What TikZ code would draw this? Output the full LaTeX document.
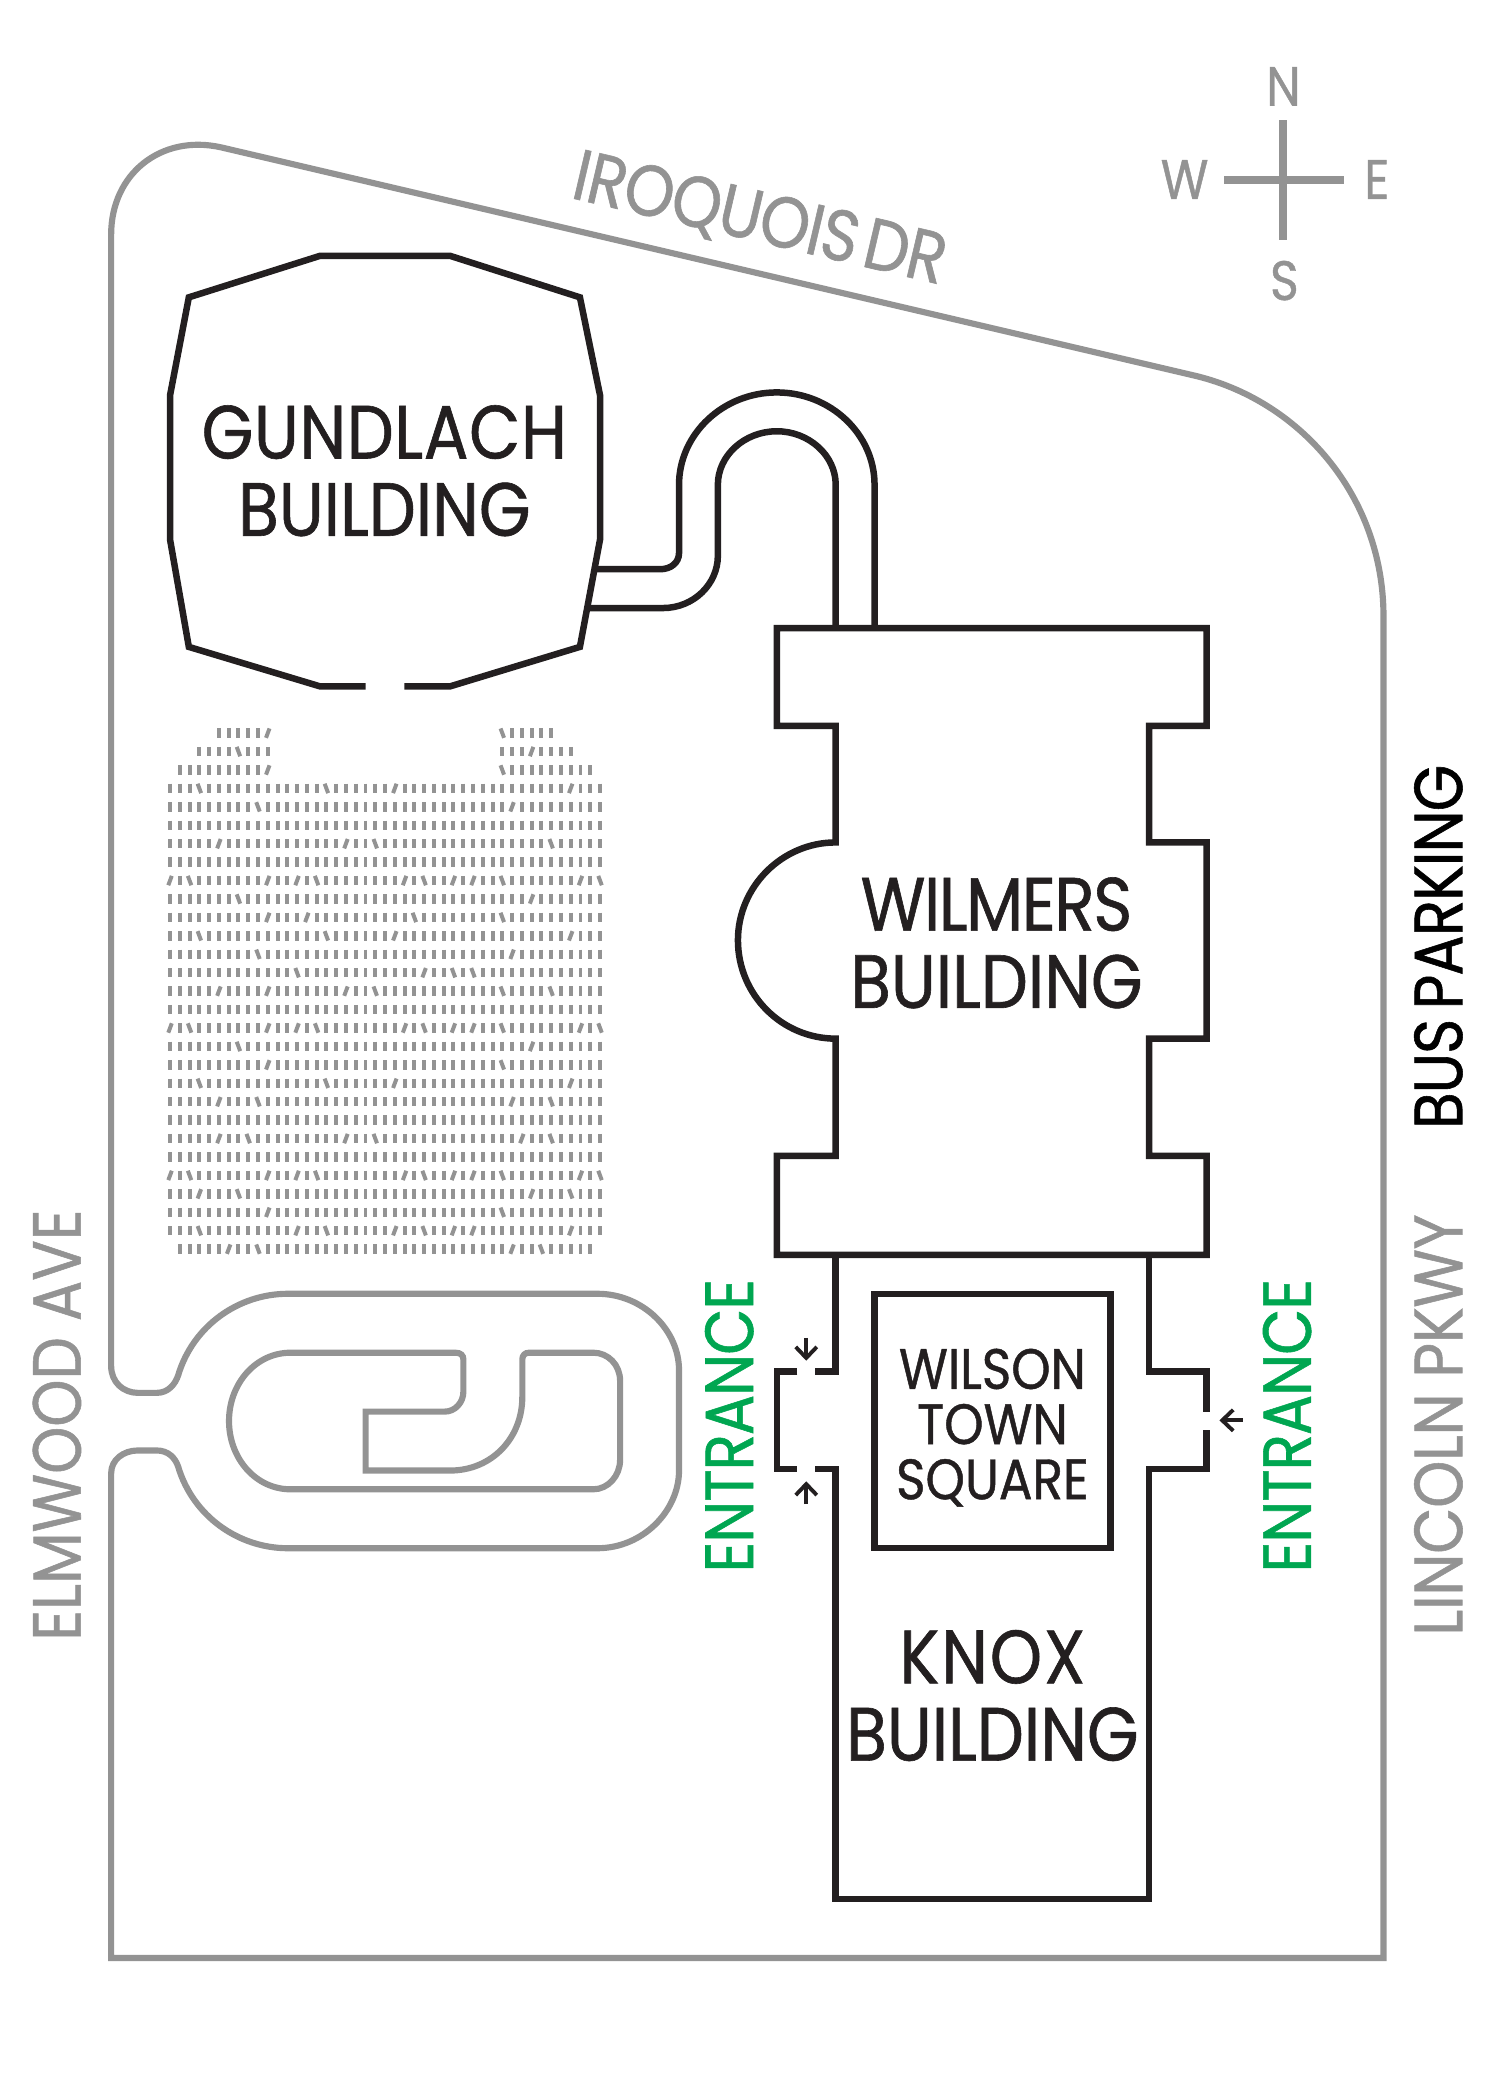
\documentclass[tikz,border=0pt]{standalone}
\usepackage{fontspec}
\setmainfont[FakeStretch=0.88,FakeBold=0.8]{Poppins}
\usetikzlibrary{arrows.meta}
\definecolor{roadgrey}{HTML}{939393}
\definecolor{wallblack}{HTML}{231F20}
\definecolor{entrygreen}{HTML}{00A651}
\tikzset{
	road/.style={draw=roadgrey, line width=1.75pt},
	wall/.style={draw=wallblack, line width=1.85pt, line join=miter},
	seatbar/.style={draw=roadgrey, line width=1.13pt},
	door/.style={draw=wallblack, line width=1.1pt, -{Straight Barb[length=1.1mm,width=2.1mm]}},
	buildname/.style={text=wallblack, align=center, inner sep=0pt, font=\fontsize{21.5}{22}\selectfont},
	squarename/.style={text=wallblack, align=center, inner sep=0pt, font=\fontsize{16.2}{15.7}\selectfont},
	roadname/.style={text=roadgrey, inner sep=0pt, font=\fontsize{19.4}{20}\selectfont},
	entryname/.style={text=entrygreen, inner sep=0pt, rotate=90, font=\fontsize{19.4}{20}\selectfont\addfontfeature{LetterSpace=-1.7}},
	compassname/.style={text=roadgrey, inner sep=0pt, font=\fontsize{15.8}{16}\selectfont}
}
% one seat of the lot: row, column
\newcommand{\seatmark}[2]{%
	\ifcsname seat#1-#2\endcsname\edef\seattilt{\csname seat#1-#2\endcsname}\else\def\seattilt{0}\fi
	\draw[seatbar] ({126.96+7.297*#2-1.3*\seattilt},{547.4+13.76*(#1-1)-3.5}) -- ({126.96+7.297*#2+1.3*\seattilt},{547.4+13.76*(#1-1)+3.5});
}
\newcommand{\tracked}[2]{{\addfontfeature{LetterSpace=#1}#2}}
\begin{document}
\begin{tikzpicture}[x=0.013393cm,y=-0.013393cm]
	\useasboundingbox (0,0) rectangle (1120,1568);

	% site boundary and driveway
	\draw[road] (83,175) .. controls (83,130) and (120,100) .. (165,110) -- (890,280) .. controls (970,298) and (1033,370) .. (1033,460) -- (1033,1462) -- (83,1462) -- (83,1100) .. controls (83,1090) and (92,1083) .. (103,1083) -- (117,1083) .. controls (126,1083) and (131,1089) .. (133,1095) .. controls (144,1132) and (178,1156) .. (215,1156) -- (446,1156) .. controls (480,1156) and (507,1128) .. (507,1098) -- (507,1023) .. controls (507,993) and (480,966) .. (446,966) -- (215,966) .. controls (178,966) and (144,990) .. (133,1027) .. controls (131,1033) and (126,1040) .. (117,1040) -- (103,1040) .. controls (92,1040) and (83,1032) .. (83,1020) -- cycle;
	\draw[road] (217,1010) -- (340,1010) .. controls (344,1010) and (346,1012) .. (346,1015) -- (346,1039) .. controls (346,1047) and (340,1054) .. (332,1054) -- (273,1054) -- (273,1098) -- (336,1098) .. controls (367,1098) and (390,1074) .. (390,1043) -- (390,1015) .. controls (390,1012) and (392,1010) .. (395,1010) -- (443,1010) .. controls (454,1010) and (463,1019) .. (463,1031) -- (463,1090) .. controls (463,1102) and (454,1112) .. (443,1112) -- (217,1112) .. controls (191,1112) and (171,1089) .. (171,1061) .. controls (171,1033) and (191,1010) .. (217,1010) -- cycle;

	% parking lot
	\foreach \row/\cols in {1/{10/-1,34/1},2/{7/1,37/-1},3/{10/-1,34/1},
		4/{3/1,16/1,23/-1,41/-1},5/{9/1,35/-1},7/{5/-1,18/-1,21/1,39/1},
		9/{0/-1,2/1,10/-1,13/-1,15/1,24/-1,26/1,29/-1,31/-1,34/1,42/-1,44/1},
		10/{7/1,37/-1},11/{10/-1,14/-1,25/1,34/1},12/{3/1,16/1,23/-1,41/-1},13/{9/1,35/-1},
		14/{13/1,26/-1,29/1,31/1},15/{5/-1,10/-1,18/-1,21/1,34/1,39/1},
		17/{0/-1,2/1,10/-1,13/-1,15/1,24/-1,26/1,29/-1,31/-1,34/1,42/-1,44/1},
		18/{7/1,37/-1},19/{10/-1,34/1},20/{3/1,16/1,23/-1,41/-1},21/{5/-1,9/1,35/-1,39/1},
		23/{5/-1,8/1,18/-1,21/1,36/-1,39/1},
		25/{0/-1,2/1,10/-1,13/-1,15/1,24/-1,26/1,29/-1,31/-1,34/1,42/-1,44/1},
		26/{3/-1,7/1,37/-1,41/1},27/{10/-1,34/1},28/{3/1,13/-1,16/1,23/-1,26/1,29/-1,31/-1,41/-1},
		29/{6/-1,9/1,35/-1,38/1}}
		{\foreach \col/\lean in \cols {\expandafter\xdef\csname seat\row-\col\endcsname{\lean}}}
	\foreach \row/\lo/\hi in {1/5/39,2/3/41,3/1/43} {
		\foreach \col in {\lo,...,10} {\seatmark{\row}{\col}}
		\foreach \col in {34,...,\hi} {\seatmark{\row}{\col}}
	}
	\foreach \row in {4,...,28} {\foreach \col in {0,...,44} {\seatmark{\row}{\col}}}
	\foreach \col in {1,...,43} {\seatmark{29}{\col}}

	% Gundlach
	\draw[wall] (273,512.5) -- (239,512.5) -- (141,483) -- (127,403) -- (127,295) -- (141,222) -- (239,191) -- (336,191) -- (433,222) -- (448,295) -- (448,403) -- (433,483) -- (336,512.5) -- (302,512.5);
	% covered walk
	\draw[wall] (444,425) -- (493,425) .. controls (501,425) and (507,420) .. (507,413) -- (507,362) .. controls (507,324) and (540,293) .. (580,293) .. controls (620,293) and (653,324) .. (653,362) -- (653,469);
	\draw[wall] (439,454) -- (495,454) .. controls (518,454) and (536,436) .. (536,415) -- (536,362) .. controls (536,340) and (556,322) .. (580,322) .. controls (604,322) and (624,340) .. (624,362) -- (624,469);
	% Wilmers
	\draw[wall] (580,469) -- (901,469) -- (901,542) -- (858,542) -- (858,629) -- (901,629) -- (901,775.5) -- (858,775.5) -- (858,863) -- (901,863) -- (901,937) -- (580,937) -- (580,863) -- (624,863) -- (624,775.5) .. controls (584,775.5) and (551,743) .. (551,702) .. controls (551,662) and (584,629) .. (624,629) -- (624,542) -- (580,542) -- cycle;
	% Knox and the entrances
	\draw[wall] (624,937) -- (624,1024) -- (608.6,1024);
	\draw[wall] (595.3,1024) -- (580,1024) -- (580,1097) -- (595.3,1097);
	\draw[wall] (608.6,1097) -- (624,1097) -- (624,1418) -- (858,1418) -- (858,1097) -- (901,1097) -- (901,1068);
	\draw[wall] (901,1054) -- (901,1024) -- (858,1024) -- (858,937);
	\draw[wall] (653,966) rectangle (829,1156);
	\draw[door] (602,999) -- (602,1016);
	\draw[door] (602,1123) -- (602,1106);
	\draw[door] (928,1060.5) -- (910.5,1060.5);

	% compass
	\draw[draw=roadgrey, line width=2.25pt] (958.3,89.6) -- (958.3,179.3);
	\draw[draw=roadgrey, line width=2.25pt] (914,134.4) -- (1003.7,134.4);
	\node[compassname] (north) at (958.3,64.5) {N};
	\node[compassname] (south) at (959,209.5) {S};
	\node[compassname] (west) at (884.5,134) {W};
	\node[compassname] (east) at (1028,134) {E};

	% names
	\node[buildname] (gundlach) at (287,351.5) {\tracked{0.8}{GUNDLACH}\\BUILDING};
	\node[buildname] (wilmers) at (744,704) {\tracked{-2}{WILMERS}\\BUILDING};
	\node[buildname] (knox) at (741,1266) {\tracked{2.5}{KNOX}\\BUILDING};
	\node[squarename] (wilson) at (741,1066) {WILSON\\TOWN\\SQUARE};
	\node[entryname] (entryleft) at (544.5,1064.5) {ENTRANCE};
	\node[entryname] (entryright) at (961,1064.5) {ENTRANCE};
	\node[roadname, rotate=-13.2, font=\fontsize{20.5}{20}\selectfont\addfontfeature{LetterSpace=-1.6}] (iroquois) at (567,165) {IROQUOIS\hspace{-0.12em} DR};
	\node[roadname, rotate=90] (elmwood) at (42.5,1064) {ELMWOOD AVE};
	\node[roadname, rotate=90, font=\fontsize{19.4}{20}\selectfont\addfontfeature{LetterSpace=-0.5}] (lincoln) at (1074,1064) {LINCOLN PKWY};
	\node[roadname, rotate=90, text=black, font=\fontsize{19.4}{20}\selectfont\addfontfeature{LetterSpace=-1.6}] (bus) at (1074,707) {BUS\hspace{-0.08em} PARKING};
\end{tikzpicture}
\end{document}
